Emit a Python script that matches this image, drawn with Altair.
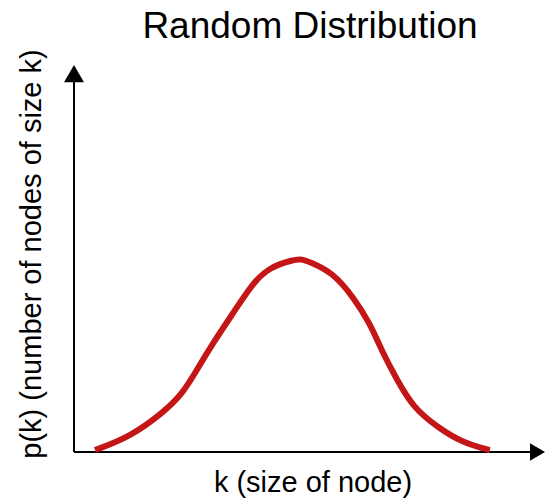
import altair as alt
import pandas as pd

# Curve values (k in arbitrary units, p(k) in arbitrary units 0..1)
k_vals = [4.4, 11.7, 18.6, 22.8, 25.7, 29.1, 33.3, 37.4, 41.0, 45.8, 47.3,
          49.4, 54.2, 58.4, 61.9, 64.6, 67.6, 70.9, 75.9, 81.4, 87.0]
p_vals = [0.005, 0.039, 0.101, 0.152, 0.212, 0.282, 0.359, 0.437, 0.478, 0.496, 0.499,
          0.491, 0.463, 0.401, 0.333, 0.256, 0.186, 0.116, 0.065, 0.023, 0.005]

title_text = "Random Distribution"
x_title = "k (size of node)"
y_title = "p(k) (number of nodes of size k)"

X_MAX = 98.54
Y_MAX = 1.0
X_AXIS_END = 96.0
Y_AXIS_END = 0.96
X_ARROW = 96.97
Y_ARROW = 0.9775

FONT = "Liberation Sans"

curve = pd.DataFrame({"k": k_vals, "p": p_vals})
xaxis_df = pd.DataFrame({"k0": [0], "k1": [X_AXIS_END], "p": [0]})
yaxis_df = pd.DataFrame({"k": [0], "p0": [0], "p1": [Y_AXIS_END]})
xarrow_df = pd.DataFrame({"k": [X_ARROW], "p": [0]})
yarrow_df = pd.DataFrame({"k": [0], "p": [Y_ARROW]})

xscale = alt.Scale(domain=[0, X_MAX], nice=False, zero=False)
yscale = alt.Scale(domain=[0, Y_MAX], nice=False, zero=False)

xaxis_rule = alt.Chart(xaxis_df).mark_rule(color="black", strokeWidth=2).encode(
    x=alt.X("k0:Q", scale=xscale, axis=None),
    x2="k1:Q",
    y=alt.Y("p:Q", scale=yscale, axis=None),
)
yaxis_rule = alt.Chart(yaxis_df).mark_rule(color="black", strokeWidth=2).encode(
    x=alt.X("k:Q", scale=xscale, axis=None),
    y=alt.Y("p0:Q", scale=yscale, axis=None),
    y2="p1:Q",
)
xarrow = alt.Chart(xarrow_df).mark_point(shape="triangle-right", filled=True, size=300,
                                         color="black", opacity=1, strokeWidth=0).encode(
    x=alt.X("k:Q", scale=xscale, axis=None),
    y=alt.Y("p:Q", scale=yscale, axis=None),
)
yarrow = alt.Chart(yarrow_df).mark_point(shape="triangle-up", filled=True, size=400,
                                         color="black", opacity=1, strokeWidth=0).encode(
    x=alt.X("k:Q", scale=xscale, axis=None),
    y=alt.Y("p:Q", scale=yscale, axis=None),
)
line = alt.Chart(curve).mark_line(color="#c41616", strokeWidth=6, interpolate="basis",
                                  strokeCap="butt").encode(
    x=alt.X("k:Q", scale=xscale, axis=None),
    y=alt.Y("p:Q", scale=yscale, axis=None),
)

title_mark = alt.Chart(pd.DataFrame({"t": [title_text]})).mark_text(
    font=FONT, fontSize=37, color="black", align="center", baseline="alphabetic"
).encode(text="t:N", x=alt.value(236), y=alt.value(-27))

xlabel_mark = alt.Chart(pd.DataFrame({"t": [x_title]})).mark_text(
    font=FONT, fontSize=29, color="black", align="center", baseline="alphabetic"
).encode(text="t:N", x=alt.value(239), y=alt.value(427))

ylabel_mark = alt.Chart(pd.DataFrame({"t": [y_title]})).mark_text(
    font=FONT, fontSize=29, color="black", align="center", baseline="alphabetic",
    angle=270
).encode(text="t:N", x=alt.value(-33), y=alt.value(189))

chart = alt.layer(xaxis_rule, yaxis_rule, xarrow, yarrow, line,
                  title_mark, xlabel_mark, ylabel_mark).properties(
    width=471,
    height=387,
    autosize=alt.AutoSizeParams(type="none"),
    padding={"left": 66, "top": 57, "right": 0, "bottom": 50},
).configure(background="white").configure_view(stroke=None)

chart.save("out.html", embed_options={"renderer": "svg", "actions": False})
